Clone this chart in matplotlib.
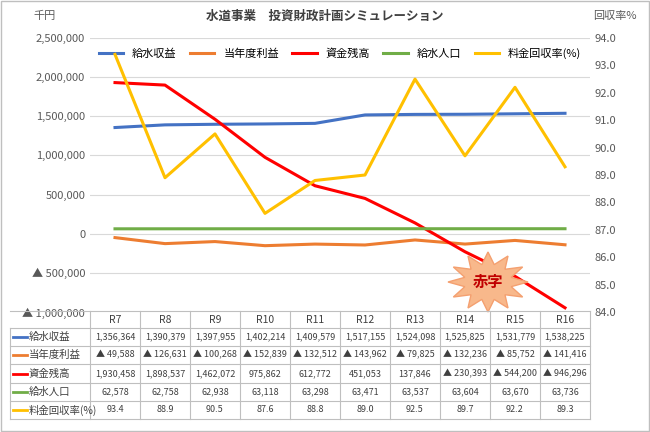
import matplotlib
matplotlib.use("Agg")
import matplotlib.pyplot as plt
import numpy as np
from matplotlib.patches import Polygon, Rectangle

plt.rcParams["font.family"] = "Noto Sans CJK JP"

categories = ["R7","R8","R9","R10","R11","R12","R13","R14","R15","R16"]
revenue = [1356364,1390379,1397955,1402214,1409579,1517155,1524098,1525825,1531779,1538225]
profit = [-49588,-126631,-100268,-152839,-132512,-143962,-79825,-132236,-85752,-141416]
funds = [1930458,1898537,1462072,975862,612772,451053,137846,-230393,-544200,-946296]
population = [62578,62758,62938,63118,63298,63471,63537,63604,63670,63736]
recovery = [93.4,88.9,90.5,87.6,88.8,89.0,92.5,89.7,92.2,89.3]
series_names = ["給水収益","当年度利益","資金残高","給水人口","料金回収率(%)"]
colors = ["#4472C4","#ED7D31","#FF0000","#70AD47","#FFC000"]

W, H = 650, 432
fig = plt.figure(figsize=(6.5, 4.32), dpi=100)
fig.patches.append(Rectangle((0.002,0.002),0.996,0.996, transform=fig.transFigure,
                             fill=False, ec="#BFBFBF", lw=1))
ax = fig.add_axes([90/W, 1-312/H, 500/W, 274/H])
x = np.arange(len(categories))
left_series = [revenue, profit, funds, population]
handles = []
for s, c, n in zip(left_series, colors[:4], series_names[:4]):
    h, = ax.plot(x, s, color=c, lw=2.2, label=n)
    handles.append(h)
ax.set_xlim(-0.5, 9.5)
ax.set_ylim(-1000000, 2500000)
yt = np.arange(-1000000, 2500001, 500000)
ax.set_yticks(yt)
ax.set_yticklabels([("▲ " if v < 0 else "") + f"{abs(v):,}" for v in yt], fontsize=8, color="#595959")
ax.grid(axis="y", color="#D9D9D9", lw=0.8)
ax.set_axisbelow(True)
ax.set_xticks([])
for sp in ax.spines.values():
    sp.set_visible(False)
ax.tick_params(length=0)

ax2 = ax.twinx()
h, = ax2.plot(x, recovery, color=colors[4], lw=2.2, label=series_names[4])
handles.append(h)
ax2.set_ylim(84, 94)
ax2.set_yticks(np.arange(84, 94.1, 1))
ax2.set_yticklabels([f"{v:.1f}" for v in np.arange(84, 94.1, 1)], fontsize=8, color="#595959")
ax2.tick_params(length=0)
for sp in ax2.spines.values():
    sp.set_visible(False)

ax.legend(handles=handles, loc="upper center", bbox_to_anchor=(0.5, 1.0), ncol=5,
          frameon=False, fontsize=8, handlelength=2.2, columnspacing=1.2)

fig.text(0.5, 1-16/H, "水道事業　投資財政計画シミュレーション", ha="center", va="center",
         fontsize=9, fontweight="bold", color="#404040")
fig.text(45/W, 1-16/H, "千円", ha="center", va="center", fontsize=8, color="#595959")
fig.text(615/W, 1-16/H, "回収率%", ha="center", va="center", fontsize=8, color="#595959")

# starburst
cx, cy = 488/W, 1-282/H
n = 12
pts = []
for i in range(2*n):
    r = 1.0 if i % 2 == 0 else 0.6
    a = np.pi*i/n
    pts.append((cx + r*40*np.cos(a)/W, cy + r*30*np.sin(a)/H))
fig.patches.append(Polygon(pts, closed=True, transform=fig.transFigure,
                           fc="#F8B88B", ec="#F4A070", lw=1))
fig.text(cx, cy, "赤字", ha="center", va="center", fontsize=11, fontweight="bold", color="#C00000")

# table
tx0, tx1 = 10/W, 590/W
row_y = [320, 337, 355, 374, 392, 410]
ylines = [311, 328, 346, 364, 383, 401, 419]
for yl in ylines:
    fig.add_artist(plt.Line2D([tx0, tx1], [1-yl/H]*2, color="#BFBFBF", lw=0.8))
for i in range(11):
    xv = (90 + 50*i)/W
    fig.add_artist(plt.Line2D([xv, xv], [1-311/H, 1-419/H], color="#BFBFBF", lw=0.8))
fig.add_artist(plt.Line2D([tx0, tx0], [1-328/H, 1-419/H], color="#BFBFBF", lw=0.8))
for i, c in enumerate(categories):
    fig.text((115 + 50*i)/W, 1-row_y[0]/H, c, ha="center", va="center", fontsize=7.5, color="#404040")

def fmt(v):
    return ("▲ " if v < 0 else "") + f"{abs(v):,}"
rows = [[fmt(v) for v in revenue], [fmt(v) for v in profit], [fmt(v) for v in funds],
        [fmt(v) for v in population], [f"{v:.1f}" for v in recovery]]
for r, (name, vals, c) in enumerate(zip(series_names, rows, colors)):
    y = 1-row_y[r+1]/H
    fig.add_artist(plt.Line2D([13/W, 27/W], [y, y], color=c, lw=2))
    fig.text(29/W, y, name, ha="left", va="center", fontsize=7.5, color="#404040")
    for i, v in enumerate(vals):
        fig.text((115 + 50*i)/W, y, v, ha="center", va="center", fontsize=6.5, color="#404040")

fig.savefig("out.png", dpi=100)
